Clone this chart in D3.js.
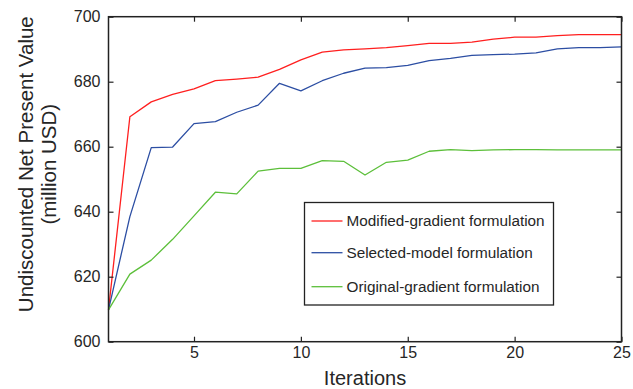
<!DOCTYPE html>
<html>
<head>
<meta charset="utf-8">
<script src="https://cdn.jsdelivr.net/npm/d3@7"></script>
<style>
  html, body { margin: 0; padding: 0; background: #fff; }
  svg { display: block; font-family: "Liberation Sans", Arial, sans-serif; }
</style>
</head>
<body>
<svg id="chart" width="633" height="389"></svg>
<script>
// Iteration numbers
const iterations = d3.range(1, 26);

// Undiscounted NPV (million USD) per iteration for each formulation
const modifiedGradient = [609.8, 669.2, 673.8, 676.1, 677.8, 680.3, 680.8, 681.4, 683.8, 686.7,
  689.1, 689.8, 690.1, 690.5, 691.1, 691.8, 691.8, 692.2, 693.1, 693.7, 693.7, 694.2, 694.5, 694.5, 694.5];
const selectedModel = [609.8, 638.5, 659.7, 659.9, 667.1, 667.7, 670.6, 672.8, 679.5, 677.2,
  680.3, 682.6, 684.2, 684.3, 685.0, 686.5, 687.2, 688.1, 688.3, 688.5, 688.9, 690.1, 690.5, 690.5, 690.7];
const originalGradient = [609.8, 620.8, 625.1, 631.5, 638.7, 646.0, 645.5, 652.5, 653.3, 653.3,
  655.7, 655.5, 651.3, 655.2, 655.9, 658.6, 659.1, 658.8, 659.0, 659.1, 659.1, 659.0, 659.0, 659.0, 659.0];

const seriesNames = ["Modified-gradient formulation", "Selected-model formulation", "Original-gradient formulation"];
const seriesColors = ["#ff1f1f", "#2c4ea3", "#5cbf3a"];
const seriesValues = [modifiedGradient, selectedModel, originalGradient];

const xTicks = [5, 10, 15, 20, 25];
const yTicks = [600, 620, 640, 660, 680, 700];

const svg = d3.select("#chart");
const margin = { left: 108.5, top: 16.7, right: 633 - 621.5, bottom: 389 - 341.7 };
const W = 633 - margin.left - margin.right;
const H = 389 - margin.top - margin.bottom;

const x = d3.scaleLinear().domain([1, 25]).range([0, W]);
const y = d3.scaleLinear().domain([600, 700]).range([H, 0]);

const g = svg.append("g").attr("transform", `translate(${margin.left},${margin.top})`);

const axisColor = "#222";
const tickLen = 5;

// Data lines
const line = d3.line().x((d, i) => x(iterations[i])).y(d => y(d));
seriesValues.forEach((vals, k) => {
  g.append("path")
    .datum(vals)
    .attr("fill", "none")
    .attr("stroke", seriesColors[k])
    .attr("stroke-width", 1.3)
    .attr("stroke-linejoin", "round")
    .attr("d", line);
});

// Axes with inward ticks on all four sides
function styleAxis(sel) {
  sel.select(".domain").remove();
  sel.selectAll(".tick line").attr("stroke", axisColor).attr("stroke-width", 1.2);
  sel.selectAll(".tick text").attr("fill", "#262626").attr("font-size", "16px")
    .attr("font-family", "'Liberation Sans', Arial, sans-serif");
}

const xAxis = g.append("g").attr("transform", `translate(0,${H})`)
  .call(d3.axisBottom(x).tickValues(xTicks).tickSizeInner(-tickLen).tickSizeOuter(0).tickPadding(5).tickFormat(d3.format("d")));
styleAxis(xAxis);
xAxis.selectAll(".tick text").attr("dy", "0.71em").attr("y", 5);

const xAxisTop = g.append("g")
  .call(d3.axisTop(x).tickValues(xTicks).tickSizeInner(-tickLen).tickSizeOuter(0).tickFormat(""));
styleAxis(xAxisTop);

const yAxis = g.append("g")
  .call(d3.axisLeft(y).tickValues(yTicks).tickSizeInner(-tickLen).tickSizeOuter(0).tickPadding(8).tickFormat(d3.format("d")));
styleAxis(yAxis);
yAxis.selectAll(".tick text").attr("x", -8);

const yAxisRight = g.append("g").attr("transform", `translate(${W},0)`)
  .call(d3.axisRight(y).tickValues(yTicks).tickSizeInner(-tickLen).tickSizeOuter(0).tickFormat(""));
styleAxis(yAxisRight);

// Plot frame
g.append("rect")
  .attr("x", 0).attr("y", 0).attr("width", W).attr("height", H)
  .attr("fill", "none").attr("stroke", axisColor).attr("stroke-width", 1.5);

// Axis titles
svg.append("text")
  .attr("x", margin.left + W / 2).attr("y", 385)
  .attr("text-anchor", "middle")
  .attr("font-size", "20px").attr("fill", "#262626")
  .text("Iterations");

const yTitle = svg.append("text")
  .attr("transform", `translate(0,${margin.top + H / 2 - 15}) rotate(-90)`)
  .attr("text-anchor", "middle")
  .attr("font-size", "20.5px").attr("fill", "#262626");
yTitle.append("tspan").attr("x", 0).attr("y", 33).text("Undiscounted Net Present Value");
yTitle.append("tspan").attr("x", 0).attr("y", 56).text("(million USD)");

// Legend
const legend = svg.append("g").attr("transform", "translate(304.5,202.5)");
legend.append("rect")
  .attr("width", 249).attr("height", 102.5)
  .attr("fill", "#fff").attr("stroke", axisColor).attr("stroke-width", 1.3);
const rowY = [18.5, 50.2, 84.2];
seriesNames.forEach((name, k) => {
  const row = legend.append("g").attr("transform", `translate(0,${rowY[k]})`);
  row.append("line")
    .attr("x1", 7).attr("x2", 38).attr("y1", 0).attr("y2", 0)
    .attr("stroke", seriesColors[k]).attr("stroke-width", 1.3);
  row.append("text")
    .attr("x", 42).attr("y", 0).attr("dy", "0.35em")
    .attr("font-size", "15.3px").attr("fill", "#262626")
    .text(name);
});
</script>
</body>
</html>
